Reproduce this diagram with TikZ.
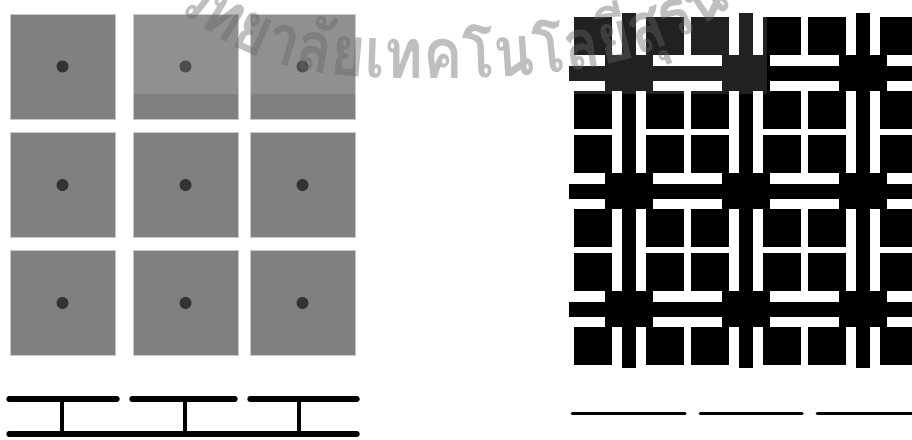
\documentclass[tikz,border=0pt]{standalone}
\usepackage{fontspec}
\newfontfamily\thaifont[Script=Thai, FakeStretch=0.84]{Loma}
\usetikzlibrary{positioning}
\tikzset{
  pxsq/.style  ={rectangle, draw=black!22, fill=black!50, line width=0.8pt,
                 minimum size=105pt, inner sep=0pt},
  pxdot/.style ={circle, fill=black!80, minimum size=12pt, inner sep=0pt},
  blkfill/.style={fill=black},
  railw/.style ={line width=5.5pt, line cap=round},
  railt/.style ={line width=4pt},
  railr/.style ={line width=3pt, line cap=round},
  wmtext/.style={font=\thaifont\bfseries\fontsize{70}{70}\selectfont,
                 text=black!60, text opacity=0.42, inner sep=0pt},
}

\begin{document}
\begin{tikzpicture}[x=1pt, y=-1pt]
        \useasboundingbox (0,0) rectangle (912,439);
        \clip (0,0) rectangle (912,439);
        % pixel grid left
        \foreach \cx [count=\i] in {62.5,185.5,302.5}
          \foreach \cy [count=\j] in {66.5,185,303} {
            \node[pxsq] (sq\j\i) at (\cx,\cy) {};
            \node[pxdot] (dot\j\i) at (sq\j\i.center) {};
          }
        % rails under the grid
        \draw[railw] (9,399) -- (117,399);
        \draw[railw] (132,399) -- (235,399);
        \draw[railw] (250,399) -- (357,399);
        \draw[railw] (9,434) -- (357,434);
        \foreach \tx in {62,185,299}
          \draw[railt] (\tx,399) -- (\tx,434);
        % mask pattern right
        \foreach \cx in {629,746,863}
          \fill[blkfill] (\cx-7,13) rectangle (\cx+7,368);
        \foreach \cy in {73,191,309}
          \fill[blkfill] (569,\cy-7.5) rectangle (930,\cy+7.5);
        \foreach \cx in {629,746,863}
          \foreach \cy in {73,191,309} {
            \fill[blkfill] (\cx-24,\cy-18) rectangle (\cx+24,\cy+18);
            \foreach \sx in {-1,1}
              \foreach \sy in {-1,1}
                \fill[blkfill] ({\cx+\sx*17},{\cy+\sy*18}) rectangle ({\cx+\sx*55},{\cy+\sy*56});
          }
        % rails under the pattern
        \draw[railr] (572,413) -- (685,413);
        \draw[railr] (700,413) -- (802,413);
        \draw[railr] (817,413) -- (930,413);
        % watermark
        \fill[white, fill opacity=0.13] (124,0) rectangle (767,94);
        \node[wmtext, rotate=-38, anchor=base west] (wm2) at (170,3) {วิ};
        \node[wmtext, rotate=-42, anchor=base east] (wm1) at (wm2.base west) {า};
        \foreach \wa/\wt [count=\k from 3] in {-32/ท, -24/ย, -17/า, -10/ลั,
            -5/ย, -2/เ, 0/ท, 0/ค, 2/โ, 4/น, 6/โ, 9/ล,
            14/ยี, 21/สุ, 28/ร, 34/น} {
          \pgfmathtruncatemacro\kp{\k-1}
          \node[wmtext, rotate=\wa, anchor=base west] (wm\k) at (wm\kp.base east) {\wt};
        }
    \end{tikzpicture}
\end{document}
